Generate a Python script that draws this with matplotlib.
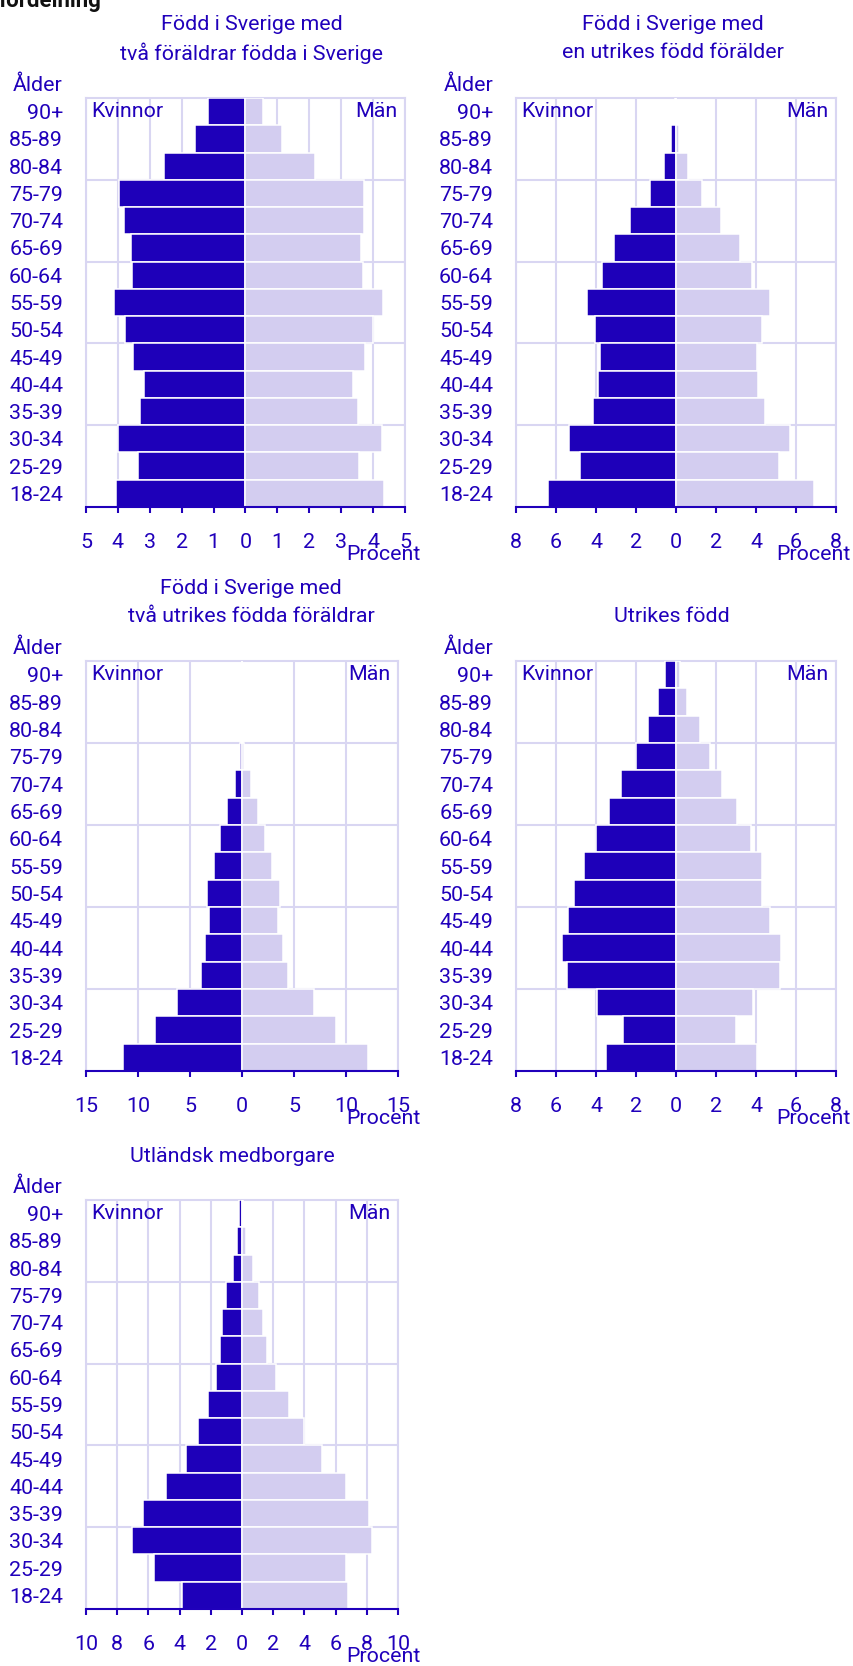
import numpy as np
import matplotlib
matplotlib.use('Agg')
import matplotlib.pyplot as plt

plt.rcParams['font.family'] = ['Roboto', 'DejaVu Sans']

W, H = 854, 1666
FS = 15.4  # pt, ~21 px
BLUE = '#1e00b9'
TXT = '#2000bb'
LIGHT = '#d3cdf0'
GRID = '#d9d6f2'

# Åldersgrupper, uppifrån och ned
ages = ['90+', '85-89', '80-84', '75-79', '70-74', '65-69', '60-64', '55-59',
        '50-54', '45-49', '40-44', '35-39', '30-34', '25-29', '18-24']

# Född i Sverige med två föräldrar födda i Sverige
kv_1 = [1.17, 1.57, 2.57, 3.95, 3.80, 3.60, 3.55, 4.13, 3.79, 3.53, 3.19, 3.32, 4.01, 3.38, 4.05]
man_1 = [0.56, 1.14, 2.19, 3.71, 3.71, 3.63, 3.67, 4.31, 3.99, 3.74, 3.38, 3.53, 4.28, 3.57, 4.35]

# Född i Sverige med en utrikes född förälder
kv_2 = [0.04, 0.27, 0.60, 1.30, 2.28, 3.08, 3.72, 4.45, 4.05, 3.82, 3.90, 4.15, 5.33, 4.80, 6.42]
man_2 = [0.02, 0.17, 0.58, 1.28, 2.23, 3.18, 3.78, 4.68, 4.32, 4.05, 4.08, 4.43, 5.70, 5.13, 6.92]

# Född i Sverige med två utrikes födda föräldrar
kv_3 = [0.0, 0.02, 0.05, 0.20, 0.70, 1.47, 2.08, 2.72, 3.33, 3.17, 3.53, 3.97, 6.25, 8.33, 11.47]
man_3 = [0.0, 0.02, 0.05, 0.22, 0.87, 1.57, 2.24, 2.92, 3.69, 3.49, 3.91, 4.39, 6.89, 9.07, 12.12]

# Utrikes född
kv_4 = [0.57, 0.92, 1.40, 1.98, 2.77, 3.37, 4.00, 4.60, 5.08, 5.38, 5.70, 5.45, 3.97, 2.67, 3.52]
man_4 = [0.22, 0.55, 1.18, 1.68, 2.30, 3.05, 3.75, 4.28, 4.30, 4.68, 5.23, 5.20, 3.87, 3.00, 4.07]

# Utländsk medborgare
kv_5 = [0.20, 0.30, 0.60, 1.02, 1.26, 1.38, 1.68, 2.17, 2.79, 3.62, 4.85, 6.36, 7.06, 5.66, 3.83]
man_5 = [0.05, 0.28, 0.70, 1.10, 1.34, 1.62, 2.17, 3.02, 4.00, 5.10, 6.64, 8.15, 8.36, 6.68, 6.81]

titles = [['Född i Sverige med', 'två föräldrar födda i Sverige'],
          ['Född i Sverige med', 'en utrikes född förälder'],
          ['Född i Sverige med', 'två utrikes födda föräldrar'],
          ['Utrikes född'],
          ['Utländsk medborgare']]
limits = [5, 8, 15, 8, 10]
steps = [1, 2, 5, 2, 2]

# pixelboxar: x0, x1, y0 (topp), y1 (botten), titelns mitt, titelrader y, Ålder x, Procent x
boxes = [
    (86, 405, 98, 507, 252, [25, 53], 63, 421),
    (516, 836, 98, 507, 673, [25, 53], 494, 851),
    (86, 398, 661, 1071, 251, [588, 616], 63, 421),
    (516, 836, 661, 1071, 672, [617], 494, 851),
    (86, 398, 1200, 1609, 232, [1156], 63, 421),
]
data = [(kv_1, man_1), (kv_2, man_2), (kv_3, man_3), (kv_4, man_4), (kv_5, man_5)]

fig = plt.figure(figsize=(W / 100, H / 100), dpi=100)


def ftext(x, y, s, **kw):
    fig.text(x / W, 1 - y / H, s, **kw)


# rubriken ligger till största delen ovanför bildkanten, som i originalet
ftext(-1, 7, 'fördelning', fontsize=16, fontweight='bold', color='#111111',
      ha='left', va='baseline')

for i, (kv, man) in enumerate(data):
    x0, x1, y0, y1, tx, ty, ax_x, pr_x = boxes[i]
    ax = fig.add_axes([x0 / W, 1 - y1 / H, (x1 - x0) / W, (y1 - y0) / H])
    pos = np.arange(len(ages))
    ax.barh(pos, -np.array(kv), height=1.0, color=BLUE, edgecolor='white',
            linewidth=1.1, zorder=3)
    ax.barh(pos, man, height=1.0, color=LIGHT, edgecolor='white',
            linewidth=1.1, zorder=3)

    lim = limits[i]
    ticks = np.arange(-lim, lim + 1, steps[i])
    ax.set_xlim(-lim, lim)
    ax.set_ylim(len(ages) - 0.5, -0.5)
    for t in ticks:
        if t != 0:
            ax.axvline(t, color=GRID, lw=1.5, zorder=1)
    for b in (2.5, 5.5, 8.5, 11.5):
        ax.axhline(b, color=GRID, lw=1.5, zorder=1)

    for s in ('top', 'left', 'right'):
        ax.spines[s].set_color(GRID)
        ax.spines[s].set_linewidth(1.5)
    ax.spines['bottom'].set_color(TXT)
    ax.spines['bottom'].set_linewidth(1.5)
    ax.spines['bottom'].set_zorder(5)

    ax.set_xticks(ticks)
    ax.set_xticklabels([str(abs(int(t))) for t in ticks])
    ax.tick_params(axis='x', colors=TXT, length=4.5, width=1.5, labelsize=FS, pad=14)
    ax.set_yticks(pos)
    ax.set_yticklabels(ages)
    ax.tick_params(axis='y', length=0, pad=16.5, labelcolor=TXT, labelsize=FS)

    for line, yy in zip(titles[i], ty):
        ftext(tx, yy, line, fontsize=FS, color=TXT, ha='center', va='center')
    ftext(ax_x, y0 - 13, 'Ålder', fontsize=FS, color=TXT, ha='right', va='center')
    ftext(x0 + 5, y0 + 13.6, 'Kvinnor', fontsize=FS, color=TXT, ha='left', va='center')
    ftext(x1 - 7, y0 + 13.6, 'Män', fontsize=FS, color=TXT, ha='right', va='center')
    ftext(pr_x, y1 + 48, 'Procent', fontsize=FS, color=TXT, ha='right', va='center')

fig.savefig('out.png', dpi=100)
